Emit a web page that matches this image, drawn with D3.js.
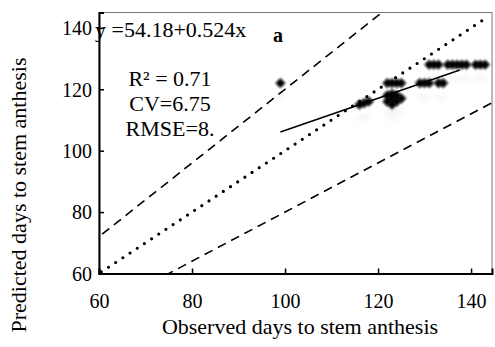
<!DOCTYPE html>
<html>
<head>
<meta charset="utf-8">
<script src="https://cdn.jsdelivr.net/npm/d3@7"></script>
<style>
  body { margin: 0; background: #fff; }
  text { font-family: "Liberation Serif", "DejaVu Serif", serif; fill: #000; }
</style>
</head>
<body>
<svg id="chart" width="495" height="347"></svg>
<script>
// observed vs predicted days to stem anthesis
var observed  = [99, 116, 117, 118, 122, 123, 123, 124, 125, 122, 124, 123,
                 122, 123, 124, 125, 129, 130, 131, 133, 134,
                 131, 132, 133, 135, 136, 137, 138, 139, 141, 142, 143]
var predicted = [122, 115, 115.5, 116, 116, 115, 117, 116, 117, 118, 118, 118.5,
                 122, 122, 122, 122, 122, 122, 122, 122, 122,
                 128, 128, 128, 128, 128, 128, 128, 128, 128, 128, 128]
var xTicks = [60, 80, 100, 120, 140]
var yTicks = [60, 80, 100, 120, 140]
var regression = { intercept: 54.18, slope: 0.524, from: 99, to: 137.6 }
var bandFactors = [1.2, 0.8]
var statLines = ["R\u00b2 = 0.71", "CV=6.75", "RMSE=8."]

var dimensions = {
    width: 495,
    height: 347,
    margin: { top: 12.5, bottom: 73.5, left: 99, right: 3 }
}

var svg = d3.select("#chart")

var xScale = d3.scaleLinear()
               .domain([60, 144.5])
               .range([dimensions.margin.left, dimensions.width - dimensions.margin.right])

var yScale = d3.scaleLinear()
               .domain([60, 145])
               .range([dimensions.height - dimensions.margin.bottom, dimensions.margin.top])

var defs = svg.append("defs")
defs.append("clipPath").attr("id", "plotClip")
    .append("rect")
    .attr("x", xScale.range()[0]).attr("y", yScale.range()[1])
    .attr("width", xScale.range()[1] - xScale.range()[0])
    .attr("height", yScale.range()[0] - yScale.range()[1])
defs.append("filter").attr("id", "soft")
    .append("feGaussianBlur").attr("stdDeviation", 1.1)
defs.append("filter").attr("id", "ghost")
    .append("feGaussianBlur").attr("stdDeviation", 3)

// plot frame (thin top/right)
svg.append("rect")
   .attr("x", xScale.range()[0]).attr("y", yScale.range()[1])
   .attr("width", xScale.range()[1] - xScale.range()[0])
   .attr("height", yScale.range()[0] - yScale.range()[1])
   .attr("fill", "none")
   .attr("stroke", "#777")
   .attr("stroke-width", 1)

var plot = svg.append("g").attr("clip-path", "url(#plotClip)")

var line = d3.line().x(d => xScale(d[0])).y(d => yScale(d[1]))

// 1:1 dotted line
plot.append("path")
    .attr("d", line([[60.5, 60.5], [143, 143]]))
    .attr("fill", "none")
    .attr("stroke", "#000")
    .attr("stroke-width", 3.2)
    .attr("stroke-linecap", "round")
    .attr("stroke-dasharray", "0 8.6")

// +/-20% dashed lines
bandFactors.forEach(f => {
    plot.append("path")
        .attr("d", line([[0, 0], [150, 150 * f]]))
        .attr("fill", "none")
        .attr("stroke", "#000")
        .attr("stroke-width", 1.6)
        .attr("stroke-dasharray", "9 6")
})

// ghost shadows under the points
var points = observed.map((d, i) => ({ x: d, y: predicted[i] }))
var marker = d3.symbol().type(d3.symbolSquare).size(52)

plot.append("g")
    .selectAll("path")
    .data(points)
    .enter()
    .append("path")
    .attr("d", marker)
    .attr("transform", d => `translate(${xScale(d.x)},${yScale(d.y) + 14}) rotate(45)`)
    .attr("fill", "#000")
    .attr("opacity", 0.03)
    .attr("filter", "url(#ghost)")

plot.append("g")
    .selectAll("path")
    .data(points)
    .enter()
    .append("path")
    .attr("d", marker)
    .attr("transform", d => `translate(${xScale(d.x)},${yScale(d.y)}) rotate(45)`)
    .attr("fill", "#000")
    .attr("filter", "url(#soft)")

// regression line
plot.append("path")
    .attr("d", line([regression.from, regression.to].map(x => [x, regression.intercept + regression.slope * x])))
    .attr("fill", "none")
    .attr("stroke", "#000")
    .attr("stroke-width", 1.6)

// axes
var xAxis = svg.append("g")
               .attr("transform", `translate(0,${yScale.range()[0]})`)
               .call(d3.axisBottom(xScale).tickValues(xTicks).tickSize(-5).tickPadding(20))
var yAxis = svg.append("g")
               .attr("transform", `translate(${xScale.range()[0]},0)`)
               .call(d3.axisLeft(yScale).tickValues(yTicks).tickSize(-5).tickPadding(7))

;[xAxis, yAxis].forEach(ax => {
    ax.select(".domain").attr("stroke", "#000").attr("stroke-width", 2)
    ax.selectAll(".tick line").attr("stroke", "#000").attr("stroke-width", 1.5)
    ax.selectAll("text")
      .style("font-family", "Liberation Serif")
      .style("font-size", "20px")
      .attr("fill", "#000")
})
yAxis.selectAll("text").attr("dy", "0.34em")

// axis titles
svg.append("text")
   .attr("x", 300)
   .attr("y", 334)
   .attr("text-anchor", "middle")
   .style("font-size", "22px")
   .text("Observed days to stem anthesis")

svg.append("text")
   .attr("transform", "rotate(-90)")
   .attr("x", -195)
   .attr("y", 26)
   .attr("text-anchor", "middle")
   .style("font-size", "22px")
   .text("Predicted days to stem anthesis")

// annotations
svg.append("text")
   .attr("x", 95)
   .attr("y", 37)
   .style("font-size", "22px")
   .text("y =54.18+0.524x")

svg.append("text")
   .attr("x", 273)
   .attr("y", 42)
   .style("font-size", "20px")
   .style("font-weight", "bold")
   .text("a")

svg.append("g")
   .selectAll("text")
   .data(statLines)
   .enter()
   .append("text")
   .attr("x", 170)
   .attr("y", (d, i) => 86 + i * 25)
   .attr("text-anchor", "middle")
   .style("font-size", "22px")
   .text(d => d)
</script>
</body>
</html>
